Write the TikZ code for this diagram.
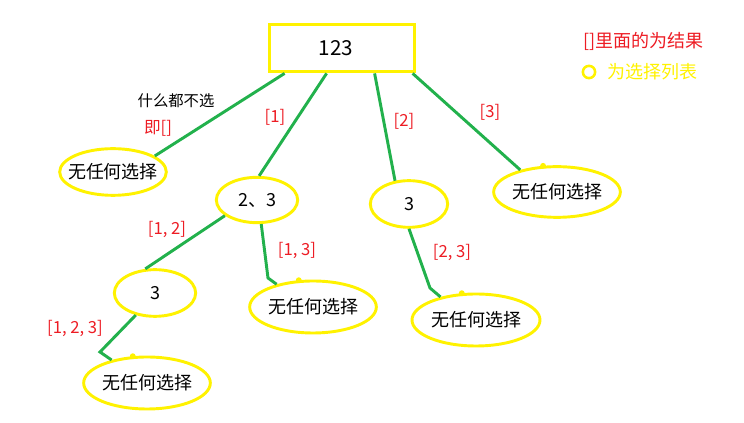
\documentclass[tikz,border=0pt]{standalone}
\usepackage{fontspec}
\setmainfont{Noto Sans CJK SC}
\usetikzlibrary{shapes.geometric,calc}
\definecolor{pyellow}{RGB}{255,242,0}
\definecolor{pgreen}{RGB}{34,177,76}
\definecolor{pred}{RGB}{237,28,36}
\newcommand{\zw}[1]{\makebox[0pt]{#1}}
\begin{document}
\begin{tikzpicture}[x=0.75pt,y=-0.75pt,
  ell/.style={ellipse,draw=pyellow,line width=2.2pt,inner sep=0pt,font=\fontsize{13.5}{16}\selectfont},
  topbox/.style={rectangle,draw=pyellow,line width=2.6pt,inner sep=0pt,minimum width=109pt,minimum height=35.5pt,font=\fontsize{15.5}{18}\selectfont},
  edge/.style={draw=pgreen,line width=2.2pt},
  lab/.style={text=pred,font=\fontsize{12.5}{14}\selectfont,inner sep=0pt},
  note/.style={text=black,font=\fontsize{11.5}{14}\selectfont,inner sep=0pt},
  dot/.style={fill=pyellow}]
\useasboundingbox (0,0) rectangle (744,423);
% nodes
\node[topbox] (top) at (342,48) {\hspace*{-9pt}123};
\node[ell,minimum width=80pt,minimum height=35pt] (e1) at (113,172) {\zw{无任何选择}};
\node[ell,minimum width=61pt,minimum height=34pt] (e2) at (257,200) {\zw{2、3}};
\node[ell,minimum width=58pt,minimum height=35pt] (e3) at (409,204) {\zw{3}};
\node[ell,minimum width=95pt,minimum height=38pt] (e4) at (557,192) {\zw{无任何选择}};
\node[ell,minimum width=61pt,minimum height=35pt] (e5) at (155,293) {\zw{3}};
\node[ell,minimum width=95pt,minimum height=39pt] (e6) at (313,307) {\zw{无任何选择}};
\node[ell,minimum width=95pt,minimum height=39pt] (e7) at (147,383) {\zw{无任何选择}};
\node[ell,minimum width=96pt,minimum height=39pt] (e8) at (476,320) {\zw{无任何选择}};
% bend points
\coordinate (b5) at (268,278);
\coordinate (b6) at (100,352);
\coordinate (b7) at (430,288);
% connectors
\draw[edge] ($(top.south west)+(17,0)$) -- (e1.21);
\draw[edge] ($(top.south west)+(59,0)$) -- (e2.85);
\draw[edge] ($(top.south west)+(107,0)$) -- (e3.121);
\draw[edge] ($(top.south west)+(145,0)$) -- (e4.149);
\draw[edge] (e2.206) -- (e5.112);
\draw[edge] (e2.-80) -- (b5) -- (e6.148);
\draw[edge] (e5.-131) -- (b6) -- (e7.147);
\draw[edge] (e3.south) -- (b7) -- (e8.147);
% dots on ellipses
\fill[dot] (e4.118) circle (2.2pt);
\fill[dot] (e6.118) circle (2.2pt);
\fill[dot] (e7.118) circle (2.2pt);
\fill[dot] (e8.118) circle (2.2pt);
% labels
\node[note] (n0) at (176,101) {什么都不选};
\node[lab] (l0) at (158,128) {即[]};
\node[lab] (l1) at (275,117) {[1]};
\node[lab] (l2) at (404,121) {[2]};
\node[lab] (l3) at (490,112) {[3]};
\node[lab] (l4) at (167,229) {[1, 2]};
\node[lab] (l5) at (297,250) {[1, 3]};
\node[lab] (l6) at (75,328) {[1, 2, 3]};
\node[lab] (l7) at (452,252) {[2, 3]};
% legend
\node[lab,anchor=west,font=\fontsize{13.5}{16}\selectfont] (leg1) at (583,41) {[]里面的为结果};
\draw[draw=pyellow,line width=1.9pt] (589,72) circle (4.6pt) coordinate (legc);
\node[anchor=west,text=pyellow,font=\fontsize{13.5}{16}\selectfont,inner sep=0pt] (leg2) at (607,72) {为选择列表};
\end{tikzpicture}
\end{document}
